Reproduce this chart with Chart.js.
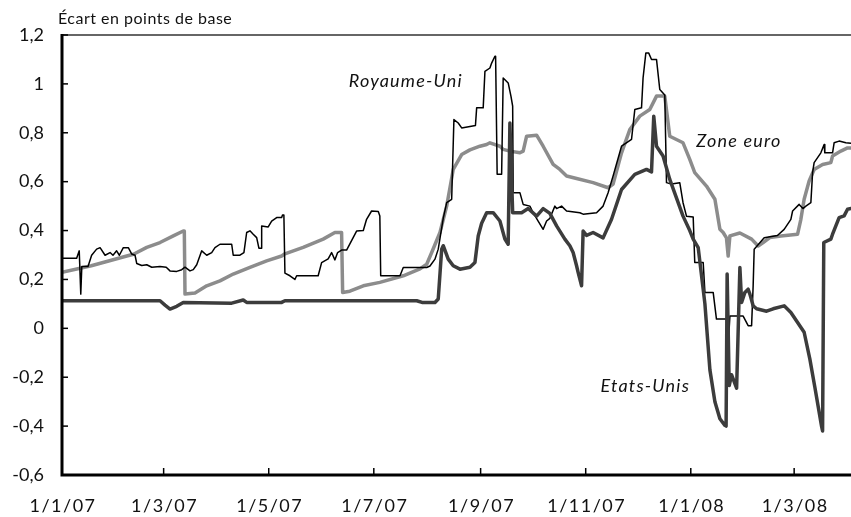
<!DOCTYPE html>
<html>
<head>
<meta charset="utf-8">
<script src="https://cdn.jsdelivr.net/npm/chart.js@4/dist/chart.umd.min.js"></script>
<style>
  html, body { margin: 0; padding: 0; background: #fff; }
  #wrap { width: 851px; height: 517px; }
</style>
</head>
<body>
<div id="wrap"><canvas id="ecartChart" width="851" height="517"></canvas></div>
<script>
// Days counted from 1/1/07
const xTickDays = [0, 59, 120, 181, 243, 304, 365, 425];
const xTickLabels = ['1/1/07', '1/3/07', '1/5/07', '1/7/07', '1/9/07', '1/11/07', '1/1/08', '1/3/08'];
const yTickValues = [-0.6, -0.4, -0.2, 0, 0.2, 0.4, 0.6, 0.8, 1, 1.2];

// Royaume-Uni
const ukDays = [0, 8.5, 10, 10.9, 11.5, 15.1, 17.2, 20.1, 22.1, 25.0, 27.9, 29.6, 31.7, 33.3, 35.6, 38.5, 40.5, 42.4, 43.4, 46.3,
  49.2, 52.1, 56.9, 60.5, 62.7, 66.6, 69.5, 71.4, 74.3, 76.2, 78.2, 81.1, 84.0, 86.9, 88.8, 91.7, 98.5, 99.4, 103.3, 105.6,
  107.2, 109.1, 111.0, 113.0, 114.3, 115.6, 115.9, 119.7, 121.7, 124.6, 127.5, 128.0, 128.8, 129.4, 132.3, 135.2, 136.2, 148.7, 150.7, 154.5,
  156.5, 158.4, 160, 162.3, 165.2, 171.0, 174.9, 176.8, 179.7, 183.6, 184.5, 185.0, 196.2, 198.1, 211.7, 213.6, 216.5, 218.4, 221.3, 223.3,
  226.2, 227.5, 230.0, 232.0, 240.0, 240.7, 244.5, 245.5, 248.4, 249.4, 251.3, 251.7, 252.6, 255.2, 256.1, 259.0, 260.6, 261.6, 261.9, 265.8,
  267.7, 271.6, 273.5, 276.4, 279.3, 281.3, 283.2, 286.1, 287.1, 290, 292.9, 300.6, 302.5, 310.3, 314.1, 317.0, 319.9, 324.8, 330.6, 332.5,
  336.4, 337.3, 338.9, 340.6, 342.2, 345.1, 347.0, 349.9, 350.9, 353.8, 358.6, 360.5, 362.5, 366.4, 367.3, 372.2, 373.2, 378.0, 379.9, 385.7,
  386.7, 387.7, 395.4, 398.3, 400.3, 401.2, 401.8, 407.6, 415.3, 419.2, 423.1, 424.1, 427.9, 430.1, 431.8, 434.7, 435.7, 436.6, 440.5, 442.4,
  442.8, 447.3, 448.2, 451.1, 455, 458];
const ukValues = [0.287, 0.287, 0.317, 0.14, 0.253, 0.253, 0.299, 0.324, 0.33, 0.299, 0.31, 0.299, 0.317, 0.299, 0.33, 0.33, 0.304, 0.299, 0.265, 0.257,
  0.26, 0.25, 0.253, 0.25, 0.235, 0.233, 0.24, 0.25, 0.235, 0.24, 0.26, 0.317, 0.299, 0.31, 0.33, 0.344, 0.344, 0.299, 0.299, 0.31,
  0.392, 0.399, 0.385, 0.371, 0.328, 0.328, 0.419, 0.415, 0.439, 0.453, 0.453, 0.464, 0.464, 0.226, 0.215, 0.2, 0.215, 0.215, 0.269, 0.284,
  0.31, 0.28, 0.31, 0.32, 0.32, 0.398, 0.40, 0.446, 0.48, 0.478, 0.46, 0.215, 0.215, 0.249, 0.249, 0.255, 0.283, 0.324, 0.45, 0.514,
  0.528, 0.854, 0.84, 0.82, 0.83, 0.902, 0.902, 1.051, 1.065, 1.085, 1.113, 1.113, 0.63, 0.63, 1.024, 1.004, 0.95, 0.909, 0.555, 0.555,
  0.507, 0.50, 0.473, 0.439, 0.405, 0.439, 0.45, 0.5, 0.49, 0.5, 0.48, 0.473, 0.467, 0.473, 0.5, 0.555, 0.623, 0.745, 0.773, 0.895,
  0.902, 1.024, 1.126, 1.126, 1.1, 1.1, 0.977, 0.955, 0.596, 0.59, 0.596, 0.514, 0.459, 0.455, 0.269, 0.269, 0.147, 0.147, 0.038, 0.038,
  -0.072, 0.05, 0.05, 0.011, 0.011, 0.174, 0.324, 0.371, 0.38, 0.405, 0.446, 0.48, 0.507, 0.49, 0.5, 0.514, 0.637, 0.678, 0.718, 0.752,
  0.718, 0.718, 0.759, 0.766, 0.759, 0.757];

// Zone euro
const euroDays = [0, 17, 37.6, 41.5, 49.2, 56.9, 64.6, 70.4, 71.0, 71.4, 77.2, 84.0, 91.7, 99.4, 109.1, 118.8, 127.5, 129.4, 140.0, 151.6,
  158.4, 162.3, 162.9, 167.1, 174.9, 184.5, 198.1, 207.8, 211.7, 214.6, 219.4, 223.3, 227.1, 232.0, 236.8, 242.6, 246.5, 248.4, 254.2, 256.1,
  260.0, 265.8, 267.7, 269.7, 275.5, 279.3, 285.1, 289.0, 292.9, 298.7, 308.3, 317.0, 319.9, 324.8, 329.6, 335.4, 341.2, 345.1, 349.9, 352.8,
  360.5, 364.4, 367.3, 374.1, 379.0, 381.9, 383.8, 385.7, 386.7, 387.7, 393.5, 400.3, 404.1, 407.0, 410.9, 417.3, 427, 428.9, 430.8, 433.7,
  436.6, 441.5, 446.3, 447.3, 452.1, 456, 458];
const euroValues = [0.229, 0.256, 0.296, 0.303, 0.331, 0.351, 0.378, 0.398, 0.398, 0.14, 0.145, 0.174, 0.194, 0.222, 0.249, 0.276, 0.296, 0.305, 0.331, 0.365,
  0.392, 0.392, 0.147, 0.152, 0.174, 0.188, 0.215, 0.243, 0.262, 0.31, 0.392, 0.5, 0.65, 0.711, 0.73, 0.745, 0.752, 0.759, 0.745, 0.732,
  0.725, 0.718, 0.725, 0.786, 0.79, 0.745, 0.671, 0.65, 0.623, 0.613, 0.596, 0.575, 0.59, 0.718, 0.813, 0.868, 0.895, 0.95, 0.95, 0.786,
  0.759, 0.691, 0.637, 0.582, 0.528, 0.405, 0.392, 0.37, 0.296, 0.378, 0.39, 0.365, 0.337, 0.351, 0.371, 0.378, 0.385, 0.446, 0.528, 0.603,
  0.65, 0.67, 0.678, 0.705, 0.725, 0.738, 0.738];

// Etats-Unis
const usDays = [0, 56.9, 59.8, 62.7, 66.6, 70.4, 98.5, 105.2, 107.2, 127.5, 129.4, 205.9, 209, 216.5, 218.4, 220.4, 221.3, 224.2, 227.1, 231.0,
  236.8, 239.7, 241.6, 243.6, 246.5, 250.3, 254.2, 257.1, 259.0, 260.0, 261.6, 266.8, 270.6, 275.5, 279.3, 283.2, 287.1, 291.9, 294.8, 296.7,
  298.7, 299.6, 301.6, 302.5, 304.5, 308.3, 314.1, 319.0, 324.8, 332.5, 339.3, 342.2, 343.5, 345.1, 348.9, 352.8, 360.5, 364.4, 366.4, 369.3,
  373.2, 376.1, 379.0, 381.9, 384.8, 385.5, 386.1, 387.3, 388.7, 391.6, 393.5, 394.5, 396.4, 398.3, 399.3, 401.2, 403.2, 409, 412.8, 419.2,
  423.1, 427.0, 430.8, 434.1, 437.0, 440.9, 441.5, 442.2, 446.3, 447.3, 451.1, 454, 456, 458];
const usValues = [0.113, 0.113, 0.095, 0.079, 0.09, 0.106, 0.103, 0.116, 0.106, 0.106, 0.113, 0.113, 0.106, 0.106, 0.12, 0.324, 0.338, 0.283, 0.256, 0.242,
  0.25, 0.269, 0.378, 0.43, 0.473, 0.473, 0.439, 0.365, 0.344, 0.84, 0.473, 0.473, 0.49, 0.459, 0.49, 0.47, 0.419, 0.365, 0.338, 0.31,
  0.256, 0.229, 0.174, 0.398, 0.38, 0.392, 0.37, 0.446, 0.568, 0.63, 0.65, 0.64, 0.868, 0.745, 0.705, 0.609, 0.459, 0.4, 0.365, 0.33,
  0.1, -0.17, -0.3, -0.37, -0.397, -0.40, 0.222, -0.234, -0.19, -0.245, 0.249, 0.106, 0.147, 0.16, 0.14, 0.092, 0.08, 0.07, 0.08, 0.092,
  0.065, 0.024, -0.016, -0.125, -0.24, -0.40, -0.42, 0.351, 0.365, 0.385, 0.453, 0.46, 0.487, 0.49];

// Series labels placed in data coordinates
const seriesLabels = [
  { text: 'Royaume-Uni', day: 199.6, value: 1.013 },
  { text: 'Zone euro', day: 392.9, value: 0.764 },
  { text: 'Etats-Unis', day: 338.6, value: -0.235 }
];

const FONT = 'Lato, "DejaVu Sans", sans-serif';

function toPoints(days, values) {
  return days.map((d, i) => ({ x: d, y: values[i] }));
}

function formatTick(v) {
  return String(Math.round(v * 10) / 10).replace('.', ',');
}

// Axes, inward tick marks, tick labels, frame line and texts
const decorPlugin = {
  id: 'decor',
  afterDatasetsDraw(chart) {
    const { ctx, chartArea } = chart;
    const xs = chart.scales.x;
    const ys = chart.scales.y;
    ctx.save();

    // top frame line
    ctx.strokeStyle = '#333';
    ctx.lineWidth = 1.5;
    ctx.beginPath();
    ctx.moveTo(chartArea.left, chartArea.top);
    ctx.lineTo(chartArea.right, chartArea.top);
    ctx.stroke();

    ctx.strokeStyle = '#000';
    ctx.lineWidth = 1.5;
    yTickValues.forEach(v => {
      const y = ys.getPixelForValue(v);
      ctx.beginPath();
      ctx.moveTo(chartArea.left, y);
      ctx.lineTo(chartArea.left + 6, y);
      ctx.stroke();
    });
    xTickDays.forEach(d => {
      const x = xs.getPixelForValue(d);
      ctx.beginPath();
      ctx.moveTo(x, chartArea.bottom);
      ctx.lineTo(x, chartArea.bottom - 7);
      ctx.stroke();
    });

    // main axes
    ctx.lineWidth = 3;
    ctx.beginPath();
    ctx.moveTo(chartArea.left, chartArea.top - 1);
    ctx.lineTo(chartArea.left, chartArea.bottom);
    ctx.lineTo(chartArea.right, chartArea.bottom);
    ctx.stroke();

    ctx.fillStyle = '#111';

    // y tick labels
    ctx.font = '18px ' + FONT;
    ctx.letterSpacing = '0px';
    ctx.textAlign = 'right';
    ctx.textBaseline = 'middle';
    yTickValues.forEach(v => {
      ctx.fillText(formatTick(v), chartArea.left - 18, ys.getPixelForValue(v));
    });

    // x tick labels
    ctx.letterSpacing = '1.5px';
    ctx.textAlign = 'center';
    ctx.textBaseline = 'alphabetic';
    xTickDays.forEach((d, i) => {
      ctx.fillText(xTickLabels[i], xs.getPixelForValue(d) + 1, chartArea.bottom + 37);
    });

    // axis title
    ctx.font = '16px ' + FONT;
    ctx.letterSpacing = '0.5px';
    ctx.textAlign = 'left';
    ctx.fillText('Écart en points de base', 58, 24);

    // series labels
    ctx.font = 'italic 18px ' + FONT;
    ctx.letterSpacing = '1.2px';
    ctx.textAlign = 'center';
    ctx.textBaseline = 'middle';
    seriesLabels.forEach(l => {
      ctx.fillText(l.text, xs.getPixelForValue(l.day), ys.getPixelForValue(l.value));
    });
    ctx.restore();
  }
};

const ctx = document.getElementById('ecartChart').getContext('2d');
new Chart(ctx, {
  type: 'line',
  data: {
    datasets: [
      {
        label: 'Etats-Unis',
        data: toPoints(usDays, usValues),
        borderColor: '#3c3c3c',
        borderWidth: 3.5,
        order: 0
      },
      {
        label: 'Royaume-Uni',
        data: toPoints(ukDays, ukValues),
        borderColor: '#000',
        borderWidth: 1.5,
        order: 1
      },
      {
        label: 'Zone euro',
        data: toPoints(euroDays, euroValues),
        borderColor: '#8c8c8c',
        borderWidth: 3.5,
        order: 2
      }
    ]
  },
  options: {
    responsive: false,
    animation: false,
    devicePixelRatio: 1,
    layout: { padding: { top: 35, right: 0, left: 0, bottom: 0 } },
    elements: {
      point: { radius: 0 },
      line: { tension: 0, borderJoinStyle: 'round', borderCapStyle: 'round' }
    },
    plugins: {
      legend: { display: false },
      tooltip: { enabled: false }
    },
    scales: {
      x: {
        type: 'linear',
        min: 0,
        max: 458,
        grid: { display: false, drawTicks: false },
        border: { display: false },
        afterBuildTicks: scale => { scale.ticks = xTickDays.map(v => ({ value: v })); },
        afterFit: scale => {
          scale.height = 42;
          scale.paddingLeft = 0;
          scale.paddingRight = 0;
        },
        ticks: { display: false }
      },
      y: {
        min: -0.6,
        max: 1.2,
        grid: { display: false, drawTicks: false },
        border: { display: false },
        afterBuildTicks: scale => { scale.ticks = yTickValues.map(v => ({ value: v })); },
        afterFit: scale => {
          scale.width = 62;
          scale.paddingTop = 0;
          scale.paddingBottom = 0;
        },
        ticks: { display: false }
      }
    }
  },
  plugins: [decorPlugin]
});
</script>
</body>
</html>
